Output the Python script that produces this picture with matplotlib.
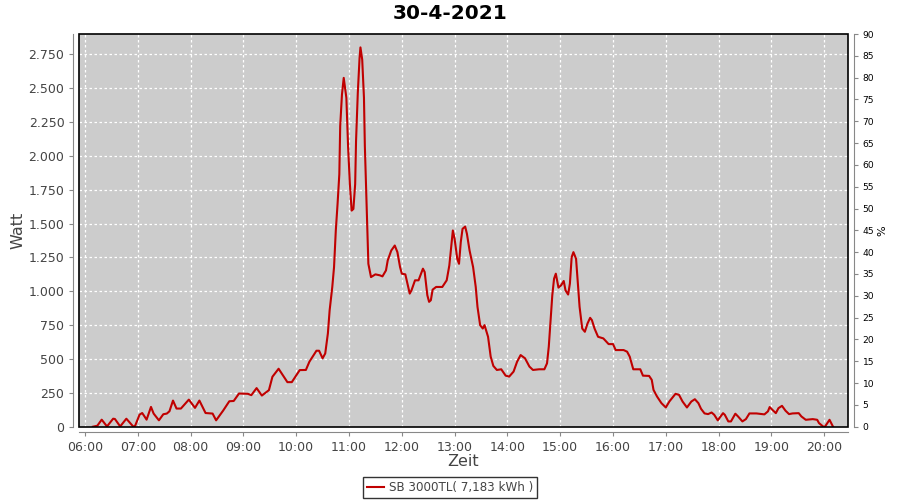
import numpy as np
import matplotlib
matplotlib.use("Agg")
import matplotlib.pyplot as plt
from matplotlib.patches import Rectangle
from matplotlib.ticker import FuncFormatter

# Readings (time of day, power in W) taken off the reference chart
times = [
    "06:09", "06:14", "06:19", "06:25", "06:32", "06:34", "06:40", "06:47", "06:55", "06:57",
    "07:02", "07:05", "07:07", "07:10", "07:15", "07:18", "07:24", "07:29", "07:33", "07:36",
    "07:40", "07:44", "07:49", "07:58", "08:05", "08:10", "08:17", "08:25", "08:29", "08:37",
    "08:44", "08:49", "08:55", "09:05", "09:09", "09:15", "09:21", "09:29", "09:33", "09:40",
    "09:50", "09:55", "10:04", "10:11", "10:15", "10:23", "10:26", "10:30", "10:33", "10:36",
    "10:38", "10:41", "10:43", "10:45", "10:47", "10:49", "10:50", "10:52", "10:54", "10:57",
    "10:59", "11:01", "11:03", "11:05", "11:07", "11:08", "11:10", "11:12", "11:13", "11:15",
    "11:17", "11:18", "11:20", "11:21", "11:22", "11:25", "11:30", "11:35", "11:38", "11:42",
    "11:44", "11:48", "11:52", "11:55", "11:58", "12:00", "12:04", "12:09", "12:11", "12:15",
    "12:19", "12:24", "12:26", "12:29", "12:31", "12:33", "12:35", "12:39", "12:46", "12:51",
    "12:54", "12:58", "13:00", "13:03", "13:05", "13:07", "13:09", "13:12", "13:14", "13:17",
    "13:21", "13:24", "13:26", "13:29", "13:32", "13:34", "13:38", "13:41", "13:44", "13:48",
    "13:53", "13:58", "14:02", "14:07", "14:11", "14:15", "14:20", "14:25", "14:29", "14:36",
    "14:42", "14:45", "14:47", "14:49", "14:51", "14:53", "14:55", "14:58", "15:01", "15:04",
    "15:06", "15:09", "15:11", "15:13", "15:15", "15:18", "15:20", "15:22", "15:25", "15:28",
    "15:31", "15:34", "15:36", "15:39", "15:43", "15:49", "15:55", "16:00", "16:03", "16:12",
    "16:16", "16:19", "16:23", "16:31", "16:34", "16:41", "16:44", "16:46", "16:50", "16:55",
    "17:00", "17:04", "17:11", "17:15", "17:19", "17:24", "17:29", "17:33", "17:37", "17:40",
    "17:44", "17:48", "17:52", "17:55", "17:59", "18:05", "18:07", "18:11", "18:14", "18:19",
    "18:22", "18:27", "18:31", "18:35", "18:43", "18:52", "18:56", "18:58", "19:01", "19:05",
    "19:08", "19:12", "19:16", "19:20", "19:24", "19:31", "19:34", "19:39", "19:47", "19:52",
    "19:54", "19:59", "20:01", "20:06", "20:10",
]
watt = [
    0, 7, 52, 2, 59, 57, 2, 59, 0, 7,
    89, 101, 82, 52, 146, 97, 47, 92, 97, 114,
    193, 134, 134, 200, 139, 193, 101, 97, 47, 119,
    188, 190, 245, 243, 233, 285, 230, 270, 369, 428,
    329, 329, 418, 419, 480, 561, 561, 505, 541, 689,
    860, 1032, 1179, 1449, 1645, 1865, 2221, 2453, 2576, 2429,
    2061, 1792, 1596, 1608, 1792, 2110, 2466, 2723, 2801, 2711,
    2429, 2074, 1645, 1424, 1203, 1105, 1125, 1118, 1110, 1154,
    1228, 1301, 1338, 1289, 1179, 1130, 1125, 983, 1007, 1081,
    1081, 1167, 1142, 971, 922, 934, 1012, 1032, 1032, 1081,
    1191, 1449, 1387, 1240, 1203, 1363, 1461, 1478, 1424, 1301,
    1179, 1032, 885, 750, 725, 750, 664, 517, 449, 419,
    424, 377, 370, 407, 480, 529, 505, 444, 419, 424,
    424, 468, 591, 787, 971, 1093, 1130, 1027, 1044, 1076,
    1007, 976, 1057, 1252, 1289, 1240, 1057, 885, 725, 701,
    762, 804, 787, 725, 664, 652, 610, 610, 566, 566,
    554, 517, 424, 424, 377, 375, 346, 272, 223, 174,
    142, 186, 243, 235, 186, 142, 186, 203, 174, 132,
    98, 93, 105, 88, 47, 100, 88, 39, 39, 96,
    76, 39, 56, 98, 98, 91, 113, 145, 125, 100,
    137, 154, 118, 93, 98, 100, 76, 51, 56, 51,
    27, 0, 2, 51, 0,
]
hour_ticks = list(range(6, 21))
watt_ticks = list(range(0, 2751, 250))
pct_ticks = list(range(0, 91, 5))
legend_label = "SB 3000TL( 7,183 kWh )"

hours = np.array([int(s[:2]) + int(s[3:]) / 60 for s in times])

fig = plt.figure(figsize=(9, 5), dpi=100)
ax = fig.add_axes([79 / 900, 1 - 426.7 / 500, (848 - 79) / 900, (426.7 - 34) / 500])
ax.set_facecolor("#CCCCCC")

line, = ax.plot(hours, watt, color="#C00000", lw=1.5, label=legend_label, zorder=4)

ax.set_xlim(5 + 53.2 / 60, 20 + 27 / 60)
ax.set_ylim(0, 2900)
ax.set_xticks(hour_ticks)
ax.xaxis.set_major_formatter(FuncFormatter(lambda v, p: "%02d:00" % int(round(v))))
ax.set_yticks(watt_ticks)
ax.yaxis.set_major_formatter(FuncFormatter(lambda v, p: f"{int(v):,}".replace(",", ".")))

ax.grid(True, color="white", linestyle=(0, (2, 2)), lw=0.9)
ax.set_axisbelow(True)

gray = "#888888"
for s in ("top", "right"):
    ax.spines[s].set_visible(False)
for s in ("left", "bottom"):
    ax.spines[s].set_position(("outward", 4))
    ax.spines[s].set_color(gray)
ax.tick_params(axis="both", colors=gray, labelcolor="#444444", labelsize=9, length=3, width=0.8)
ax.add_patch(Rectangle((0, 0), 1, 1, transform=ax.transAxes, fill=False,
                       ec="black", lw=1.2, zorder=5, clip_on=False))

ax.set_xlabel("Zeit", fontsize=11.5, color="#444444", labelpad=0)
ax.set_ylabel("Watt", fontsize=11.5, color="#444444", labelpad=2)

ax2 = ax.twinx()
ax2.set_ylim(0, 90)
ax2.set_yticks(pct_ticks)
for s in ("top", "left", "bottom"):
    ax2.spines[s].set_visible(False)
ax2.spines["right"].set_position(("outward", 4))
ax2.spines["right"].set_color(gray)
ax2.tick_params(axis="y", colors=gray, labelcolor="black", labelsize=6.6, length=3, width=0.8)
ax2.set_ylabel("%", fontsize=8, color="black", labelpad=2)

fig.suptitle("30-4-2021", fontsize=14.5, fontweight="bold", y=0.992)

leg = fig.legend(handles=[line], loc="center", bbox_to_anchor=(450 / 900, 1 - 487.5 / 500),
                 frameon=True, fancybox=False, edgecolor="black", fontsize=8.6,
                 handlelength=1.5, handletextpad=0.4, borderpad=0.3, borderaxespad=0)
leg.get_frame().set_linewidth(1.0)
for t in leg.get_texts():
    t.set_color("#444444")

fig.savefig("out.png", dpi=100)
